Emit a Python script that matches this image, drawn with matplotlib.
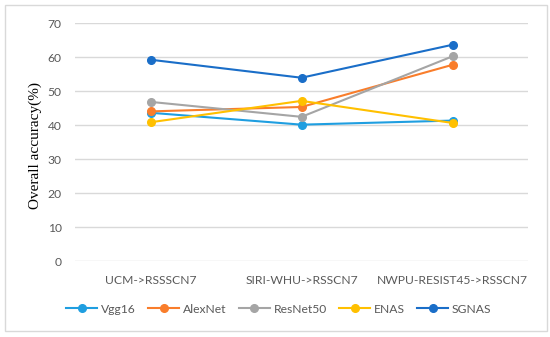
import matplotlib.pyplot as plt
from matplotlib.patches import Rectangle

categories = ["UCM->RSSSCN7", "SIRI-WHU->RSSCN7", "NWPU-RESIST45->RSSCN7"]
vgg16 = [43.6, 40.1, 41.3]
alexnet = [44.0, 45.3, 57.7]
resnet50 = [46.8, 42.4, 60.2]
enas = [40.8, 47.1, 40.6]
sgnas = [59.2, 53.9, 63.6]

series = [
    ("Vgg16", vgg16, "#1f9ee0"),
    ("AlexNet", alexnet, "#f97d2b"),
    ("ResNet50", resnet50, "#a5a5a5"),
    ("ENAS", enas, "#ffc000"),
    ("SGNAS", sgnas, "#1a6ec8"),
]

fig = plt.figure(figsize=(5.5, 3.37), dpi=100)
ax = fig.add_axes([75 / 550, 76 / 337, 453 / 550, 238 / 337])

x = range(len(categories))
for name, vals, col in series:
    ax.plot(x, vals, color=col, lw=1.5, marker="o", ms=5.5, label=name)

ax.set_xlim(-0.5, 2.5)
ax.set_ylim(0, 70)
ax.set_yticks(range(0, 71, 10))
ax.set_xticks(list(x))
ax.set_xticklabels(categories)
ax.grid(axis="y", color="#d9d9d9", lw=1)
ax.set_axisbelow(True)
for s in ax.spines.values():
    s.set_visible(False)
ax.tick_params(length=0, labelsize=8.7, labelcolor="#595959")
ax.tick_params(axis="x", pad=10)
ax.tick_params(axis="y", pad=9.5)
for t in ax.get_xticklabels() + ax.get_yticklabels():
    t.set_family("Lato")

ax.set_ylabel("Overall accuracy(%)", family="Liberation Serif", fontsize=11)
ax.yaxis.set_label_coords(-33 / 453, 0.487)

ax.legend(loc="center", bbox_to_anchor=(0.45, -0.202), ncol=5, frameon=False,
          prop={"family": "Lato", "size": 8.7}, labelcolor="#595959",
          handlelength=2.6, handletextpad=0.3, columnspacing=1.0)

fig.patches.append(Rectangle((5 / 550, 6 / 337), 542 / 550, 326 / 337, transform=fig.transFigure,
                             fill=False, edgecolor="#d9d9d9", lw=1))

fig.savefig("out.png", dpi=100)
